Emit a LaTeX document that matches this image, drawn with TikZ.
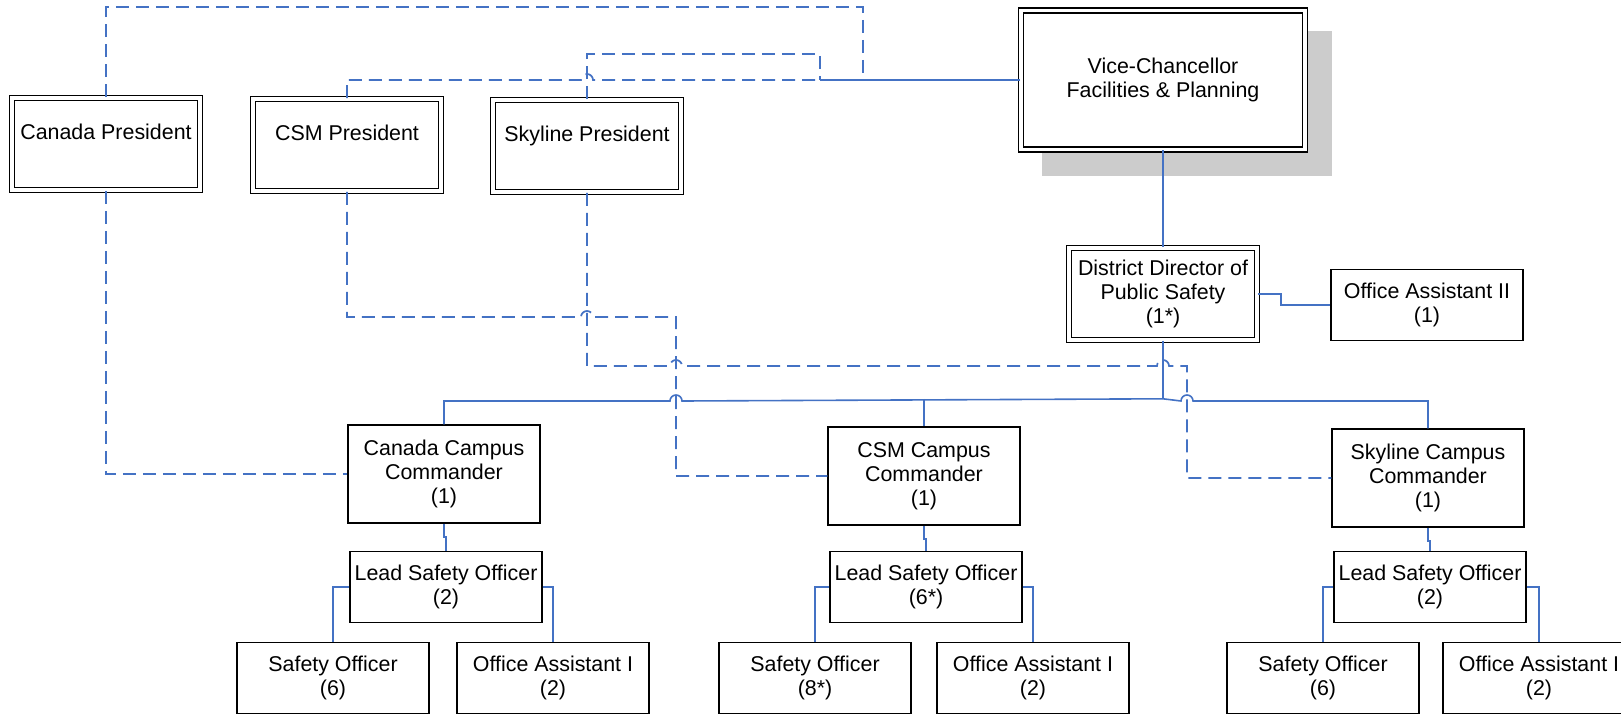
\documentclass[tikz,border=0pt]{standalone}
\usepackage{fontspec}
\setmainfont{Liberation Sans}
\definecolor{linkblue}{RGB}{68,114,196}
\definecolor{shadowgray}{RGB}{204,204,204}

\begin{document}
\begin{tikzpicture}[x=0.5pt,y=-0.5pt,
	font=\fontsize{10.7}{12}\selectfont,
	unit/.style={draw=black, line width=0.75pt, fill=white, align=center,
		inner sep=0pt, minimum width=96pt, minimum height=35.5pt},
	headbox/.style={unit, line width=0.8pt, double=white, double distance=1.6pt,
		minimum width=94pt, minimum height=46pt},
	conn/.style={draw=linkblue, line width=0.8pt},
	dashlink/.style={conn, line width=0.85pt, dash pattern=on 6.5pt off 3.5pt}]

\useasboundingbox (0,0) rectangle (1621,717);

% top of the chart
\fill[shadowgray] (1042,31) rectangle (1332,176);
\node[headbox, minimum width=142pt, minimum height=69.5pt] (vc) at (1163,80) {Vice-Chancellor\\Facilities \& Planning};
\node[headbox] (canp) at (106,144) {Canada President\\\mbox{}};
\node[headbox] (csmp) at (347,145) {CSM President\\\mbox{}};
\node[headbox] (skyp) at (587,146) {Skyline President\\\mbox{}};
\node[headbox] (dd) at (1163,294) {District Director of\\Public Safety\\(1*)};
\node[unit] (oatwo) at (1427,305) {Office Assistant II\\(1)};

\coordinate (meet) at (820,80);
\coordinate (canjoin) at (863,78);

% campus columns
\foreach \cx/\cy/\lx/\sx/\ox/\nm/\cn/\lead/\safe in
	{444/474/446/333/553/can/Canada/2/6,
	 924/476/926/815/1033/csm/CSM/6*/8*,
	 1428/478/1430/1323/1539/sky/Skyline/2/6}
{	\node[unit, minimum height=49pt] (\nm cc) at (\cx,\cy) {\cn\ Campus\\Commander\\(1)};
	\node[unit] (\nm lso) at (\lx,587) {Lead Safety Officer\\(\lead)};
	\node[unit] (\nm so) at (\sx,678) {Safety Officer\\(\safe)};
	\node[unit] (\nm oa) at (\ox,678) {Office Assistant I\\(2)};
	\draw[conn] (\nm cc.south) -- ++(0,13) -| (\nm lso.north);
	\draw[conn] (\nm lso.west) -| (\nm so.north);
	\draw[conn] (\nm lso.east) -| (\nm oa.north);
}

% solid reporting lines
\draw[conn] (vc.west) -- (meet);
\draw[conn] (vc.south) -- (dd.north);
\draw[conn] (dd.east) -- ++(23,0) |- (oatwo.west);
\draw[conn] (dd.south) -- ++(0,58) coordinate (hub);
\draw[conn] (hub) -- (682,401) arc[start angle=0, end angle=180, radius=3pt] -| (cancc.north);
\draw[conn] (hub) -- (1181,401) arc[start angle=180, end angle=0, radius=3pt] -| (skycc.north);
\draw[conn] (csmcc.north |- hub) -- (csmcc.north);

% dashed lines to the presidents
\draw[dashlink] (canp.north) |- (863,7) -- (canjoin);
\draw[dashlink] (skyp.north) |- (820,54) -- (meet);
\draw[dashlink] (csmp.north) |- (581,80) arc[start angle=180, end angle=0, radius=3pt] -- (meet);
\draw[dashlink] (canp.south) |- (cancc.west);
\draw[dashlink] (csmp.south) |- (581,317) arc[start angle=180, end angle=0, radius=3pt]
	-- (676,317) |- (csmcc.west);
\draw[dashlink] (skyp.south) |- (670,366) arc[start angle=180, end angle=0, radius=3pt]
	-- (1157,366) arc[start angle=180, end angle=0, radius=3pt] -- (1187,366) |- (skycc.west);

\end{tikzpicture}
\end{document}
